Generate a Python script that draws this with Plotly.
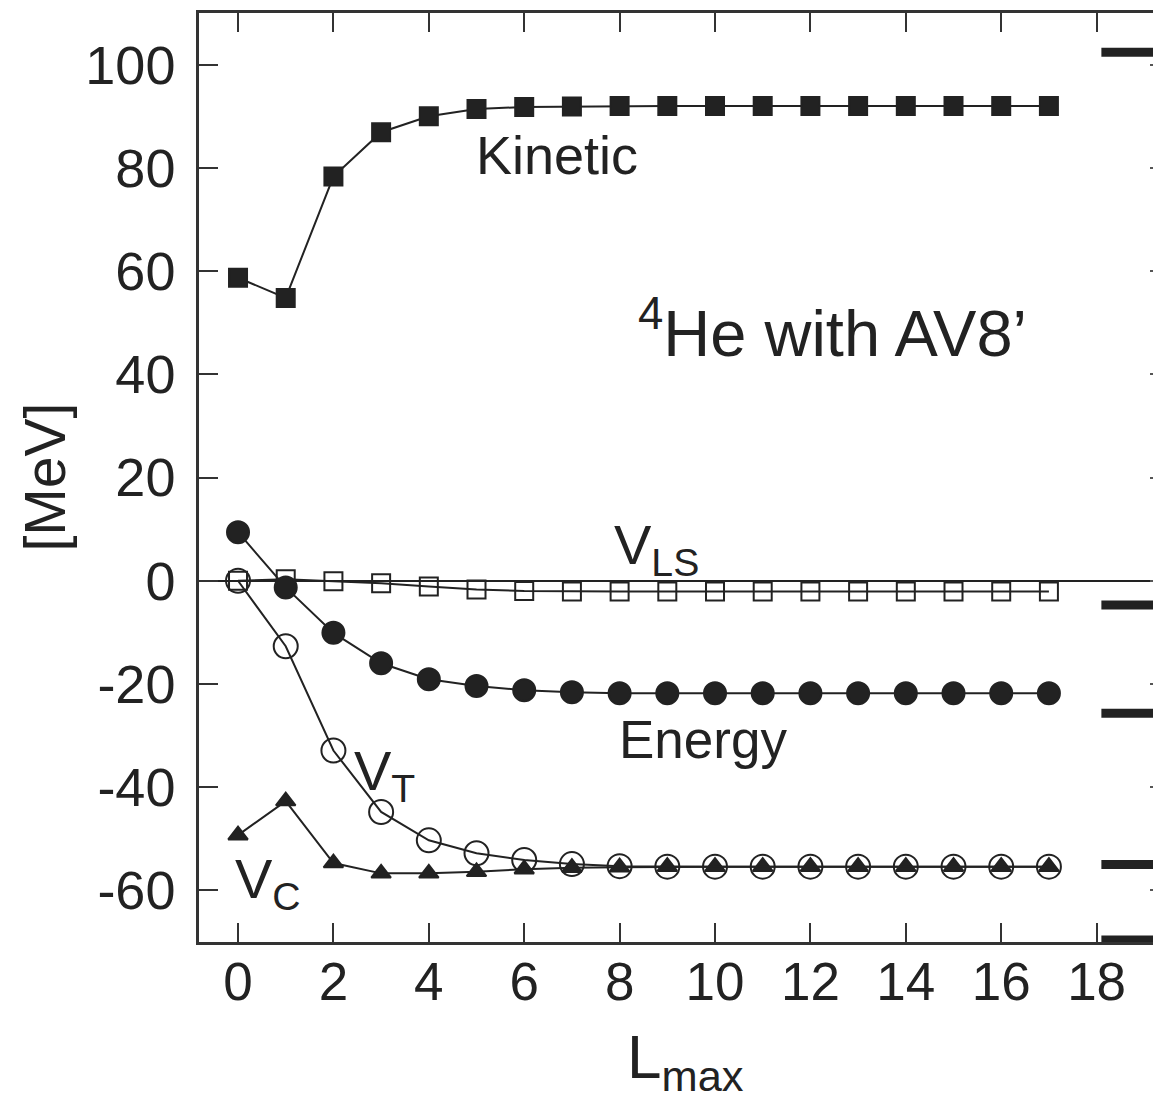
import plotly.graph_objects as go

L = list(range(18))
kinetic = [58.7, 54.8, 78.3, 86.9, 90.0, 91.4, 91.8, 91.9, 92.0, 92.0, 92.0, 92.0, 92.0, 92.0, 92.0, 92.0, 92.0, 92.0]
energy = [9.4, -1.3, -10.1, -16.0, -19.1, -20.4, -21.2, -21.6, -21.8, -21.8, -21.8, -21.8, -21.8, -21.8, -21.8, -21.8, -21.8, -21.8]
v_ls = [0.0, 0.3, -0.1, -0.5, -1.1, -1.7, -2.0, -2.1, -2.1, -2.1, -2.1, -2.1, -2.1, -2.1, -2.1, -2.1, -2.1, -2.1]
v_t = [0.0, -12.7, -32.9, -44.8, -50.3, -52.8, -54.1, -54.9, -55.3, -55.4, -55.4, -55.4, -55.4, -55.4, -55.4, -55.4, -55.4, -55.4]
v_c = [-49.3, -42.7, -54.7, -56.7, -56.7, -56.4, -55.9, -55.6, -55.5, -55.4, -55.4, -55.4, -55.4, -55.4, -55.4, -55.4, -55.4, -55.4]

# exact reference values shown as thick bars at right
ref_values = [102.4, -4.7, -25.7, -55.0, -69.6]
ref_x = [18.1, 19.6]

x_ticks = list(range(0, 19, 2))
x_ticktext = [str(v) for v in x_ticks]
y_ticks = list(range(-60, 101, 20))
y_ticktext = [str(v) for v in y_ticks]  # plain hyphen minus as in the reference

INK = "#222222"
FONT = "Liberation Sans, Arial, Helvetica, sans-serif"

fig = go.Figure()

def add_series(y, symbol, size, lw=2.0):
    fig.add_trace(go.Scatter(
        x=L, y=y, mode="lines+markers",
        line=dict(color=INK, width=lw),
        marker=dict(symbol=symbol, size=size, color=INK,
                    line=dict(color=INK, width=2)),
        showlegend=False, hoverinfo="skip"))

add_series(v_ls, "square-open", 18)
add_series(kinetic, "square", 18)
add_series(energy, "circle", 22)
add_series(v_c, "triangle-up", 17)
add_series(v_t, "circle-open", 24)

for v in ref_values:
    fig.add_trace(go.Scatter(
        x=ref_x, y=[v, v], mode="lines",
        line=dict(color=INK, width=9),
        showlegend=False, hoverinfo="skip"))

annotations = [
    dict(x=4.95, y=82.4, text="Kinetic", size=54),
    dict(x=8.35, y=48.8, text="<sup>4</sup>He with AV8’", size=65),
    dict(x=7.85, y=6.3, text="V<sub>LS</sub>", size=56),
    dict(x=7.95, y=-30.8, text="Energy", size=53),
    dict(x=2.38, y=-37.6, text="V<sub>T</sub>", size=56),
    dict(x=-0.1, y=-58.4, text="V<sub>C</sub>", size=56),
]
for a in annotations:
    size = a.pop("size")
    fig.add_annotation(xref="x", yref="y", xanchor="left", yanchor="middle",
                       showarrow=False, font=dict(family=FONT, size=size, color=INK), **a)

fig.add_annotation(xref="paper", yref="paper", x=-0.161, y=0.50, text="[MeV]",
                   textangle=-90, showarrow=False, xanchor="center", yanchor="middle",
                   borderpad=0, font=dict(family=FONT, size=57, color=INK))
fig.add_annotation(xref="paper", yref="paper", x=0.506, y=-0.128, text="L<sub>max</sub>",
                   showarrow=False, xanchor="center", yanchor="middle",
                   font=dict(family=FONT, size=62, color=INK))

# page has an 8px body margin: figure origin sits at (8, 8)
fig.update_layout(
    width=1153, height=1091,
    margin=dict(l=191, r=0, t=5, b=157),
    paper_bgcolor="white", plot_bgcolor="white",
    xaxis=dict(range=[-0.818, 19.35], tickvals=x_ticks, ticktext=x_ticktext,
               ticks="inside", ticklen=19,
               tickwidth=2, tickcolor="#333", showline=True, linecolor="#333", linewidth=2.5,
               mirror="ticks", showgrid=False, zeroline=False,
               tickfont=dict(family=FONT, size=53, color=INK), ticklabelstandoff=-8),
    yaxis=dict(range=[-70, 110], tickvals=y_ticks, ticktext=y_ticktext,
               ticks="inside", ticklen=19,
               tickwidth=2, tickcolor="#333", showline=True, linecolor="#333", linewidth=2.5,
               mirror=False, showgrid=False, zeroline=True, zerolinecolor=INK, zerolinewidth=1.5,
               tickfont=dict(family=FONT, size=54, color=INK), ticklabelstandoff=10),
    yaxis2=dict(range=[-70, 110], tickvals=y_ticks, overlaying="y", side="right",
                ticks="inside", ticklen=11, tickwidth=2, tickcolor="#555",
                showline=False, showgrid=False, zeroline=False, showticklabels=False),
)
# dummy trace to activate the right axis
fig.add_trace(go.Scatter(x=[None], y=[None], yaxis="y2", showlegend=False, hoverinfo="skip"))

fig.write_html("out.html")
